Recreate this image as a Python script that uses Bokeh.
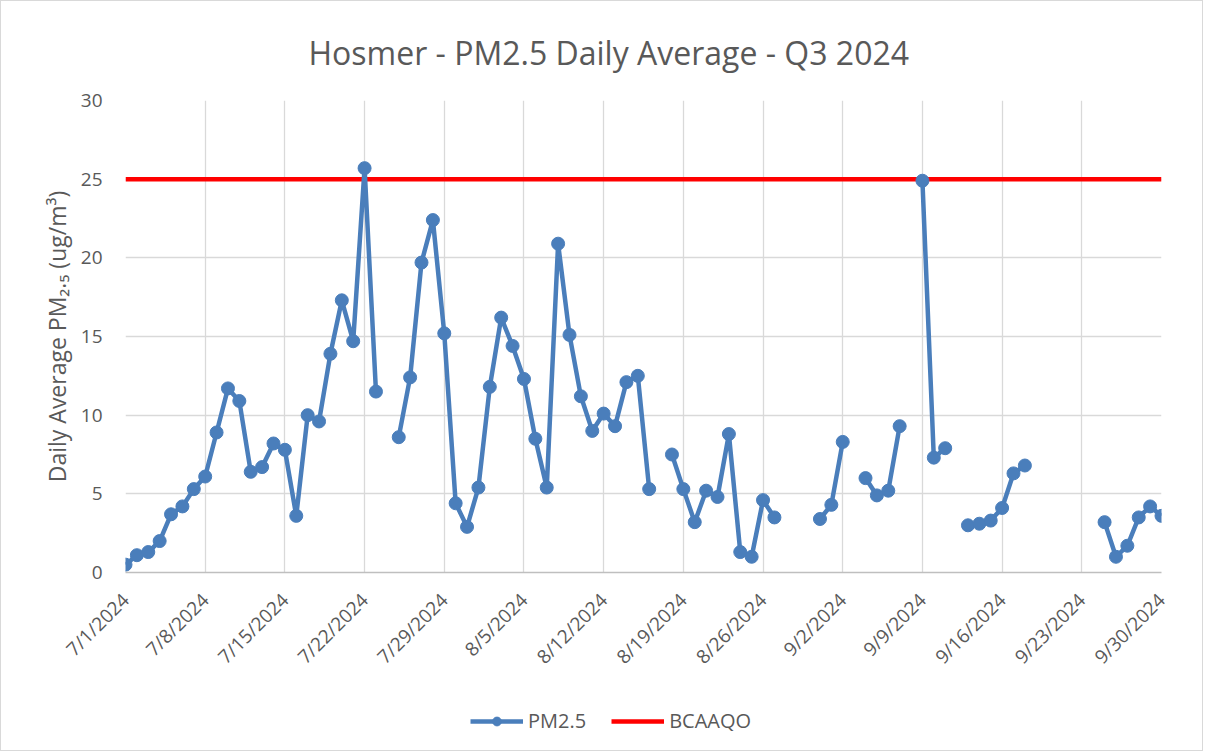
import numpy as np
import pandas as pd
from bokeh.plotting import figure
from bokeh.layouts import column
from bokeh.models import (FixedTicker, CustomJSTickFormatter, Legend, LegendItem,
                          Range1d, ColumnDataSource)
from bokeh.embed import file_html
from bokeh.resources import INLINE

# ---- data ----
start_date = "2024-07-01"
end_date = "2024-09-30"
pm25 = [0.5, 1.1, 1.3, 2.0, 3.7, 4.2, 5.3, 6.1, 8.9, 11.7, 10.9, 6.4, 6.7, 8.2,
        7.8, 3.6, 10.0, 9.6, 13.9, 17.3, 14.7, 25.7, 11.5, None, 8.6, 12.4, 19.7,
        22.4, 15.2, 4.4, 2.9, 5.4, 11.8, 16.2, 14.4, 12.3, 8.5, 5.4, 20.9, 15.1,
        11.2, 9.0, 10.1, 9.3, 12.1, 12.5, 5.3, None, 7.5, 5.3, 3.2, 5.2, 4.8, 8.8,
        1.3, 1.0, 4.6, 3.5, None, None, None, 3.4, 4.3, 8.3, None, 6.0, 4.9, 5.2,
        9.3, None, 24.9, 7.3, 7.9, None, 3.0, 3.1, 3.3, 4.1, 6.3, 6.8, None, None,
        None, None, None, None, 3.2, 1.0, 1.7, 3.5, 4.2, 3.6]
bcaaqo_level = 25
tick_dates = ["2024-07-01", "2024-07-08", "2024-07-15", "2024-07-22", "2024-07-29",
              "2024-08-05", "2024-08-12", "2024-08-19", "2024-08-26", "2024-09-02",
              "2024-09-09", "2024-09-16", "2024-09-23", "2024-09-30"]
y_ticks = [0, 5, 10, 15, 20, 25, 30]
series_names = ["PM2.5", "BCAAQO"]

dates = pd.date_range(start_date, end_date, freq="D")
pm = np.array([np.nan if v is None else v for v in pm25], dtype=float)
src = ColumnDataSource(dict(x=dates, y=pm))
bc_src = ColumnDataSource(dict(x=dates, y=[bcaaqo_level] * len(dates)))

FONT = "Open Sans"
GREY = "#595959"
BLUE = "#4a7ebb"
RED = "#ff0000"

p = figure(x_axis_type="datetime", frame_width=1036, frame_height=472,
           min_border_left=124, min_border_right=41, min_border_top=99,
           min_border_bottom=120, output_backend="svg", toolbar_location=None,
           title="Hosmer - PM2.5 Daily Average - Q3 2024")

p.x_range = Range1d(pd.Timestamp(start_date), pd.Timestamp(end_date))
p.y_range = Range1d(0, 30)

p.title.align = "left"
p.title.vertical_align = "top"
p.title.text_font = FONT
p.title.text_font_size = "32px"
p.title.text_font_style = "normal"
p.title.text_color = GREY
p.title.offset = 183
p.title.standoff = 50

p.outline_line_color = None
p.background_fill_color = "white"
p.border_fill_color = "white"

p.xgrid.grid_line_color = "#d9d9d9"
p.ygrid.grid_line_color = "#d9d9d9"
p.xgrid.grid_line_width = 1.3
p.ygrid.grid_line_width = 1.3

tick_ms = [pd.Timestamp(d).value // 10**6 for d in tick_dates]
p.xaxis.ticker = FixedTicker(ticks=tick_ms)
p.xaxis.formatter = CustomJSTickFormatter(code="""
    const d = new Date(tick);
    return (d.getUTCMonth()+1) + "/" + d.getUTCDate() + "/" + d.getUTCFullYear();
""")
p.xaxis.major_label_orientation = np.pi / 4
p.yaxis.ticker = FixedTicker(ticks=y_ticks)

for ax in (p.xaxis, p.yaxis):
    ax.major_tick_line_color = None
    ax.minor_tick_line_color = None
    ax.major_label_text_font = FONT
    ax.major_label_text_font_size = "19px"
    ax.major_label_text_color = GREY
p.xaxis.axis_line_color = "#bfbfbf"
p.xaxis.axis_line_width = 1.5
p.yaxis.axis_line_color = None
p.xaxis.major_label_standoff = 18
p.yaxis.major_label_standoff = 17

p.yaxis.axis_label = "Daily Average PM\u2082.\u2085 (ug/m\u00b3)"
p.yaxis.axis_label_text_font = FONT
p.yaxis.axis_label_text_font_size = "23px"
p.yaxis.axis_label_text_font_style = "normal"
p.yaxis.axis_label_text_color = GREY
p.yaxis.axis_label_standoff = 5

p.line("x", "y", source=bc_src, line_color=RED, line_width=4.5)
p.line("x", "y", source=src, line_color=BLUE, line_width=4.5)
p.scatter("x", "y", source=src, size=13, fill_color=BLUE, line_color=BLUE)

# ---- legend strip below the chart (its series sit outside its own ranges) ----
lg = figure(width=1201, height=58, min_border=0, output_backend="svg",
            toolbar_location=None, x_axis_location=None, y_axis_location=None,
            x_range=Range1d(0, 1), y_range=Range1d(0, 1))
lg.outline_line_color = None
lg.grid.visible = False
l_red = lg.line("x", "y", source=bc_src, line_color=RED, line_width=4.5)
l_bl = lg.line("x", "y", source=src, line_color=BLUE, line_width=4.5)
l_bm = lg.scatter("x", "y", source=src, size=13, fill_color=BLUE, line_color=BLUE)
legend = Legend(items=[LegendItem(label=series_names[0], renderers=[l_bl, l_bm]),
                       LegendItem(label=series_names[1], renderers=[l_red])],
                orientation="horizontal", location=(345, 16), margin=0,
                border_line_color=None, background_fill_alpha=0,
                label_text_font=FONT, label_text_font_size="20px",
                label_text_color=GREY, glyph_width=53, glyph_height=22,
                spacing=25, padding=0, label_standoff=5)
lg.add_layout(legend, "center")

layout = column(p, lg, spacing=0, styles={"border": "1px solid #d9d9d9"})

open("out.html", "w").write(file_html(layout, INLINE))
